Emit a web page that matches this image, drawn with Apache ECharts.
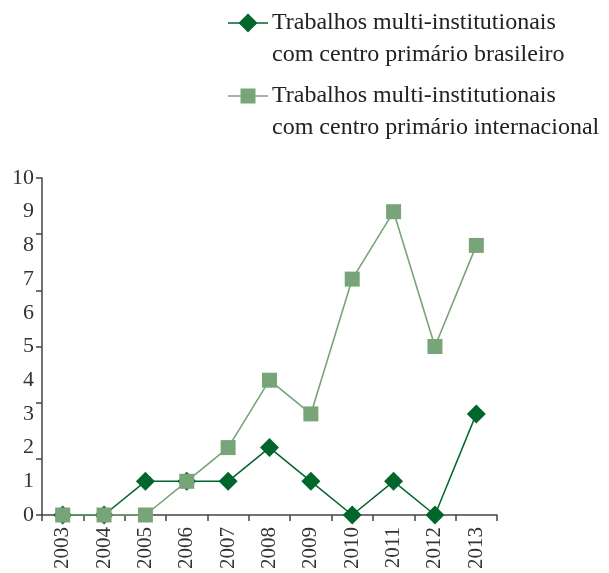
<!DOCTYPE html>
<html><head><meta charset="utf-8">
<script src="https://cdn.jsdelivr.net/npm/echarts@6/dist/echarts.min.js"></script>
<style>html,body{margin:0;padding:0;background:#fff}#c{width:609px;height:573px}</style>
</head><body><div id="c"></div>
<script>
const years = ['2003','2004','2005','2006','2007','2008','2009','2010','2011','2012','2013'];
const brasileiro = [0,0,1,1,1,2,1,0,1,0,3];
const internacional = [0,0,0,1,2,4,3,7,9,5,8];
const yTickLabels = [0,1,2,3,4,5,6,7,8,9,10];
const nameBR = 'Trabalhos multi-institutionais\ncom centro primário brasileiro';
const nameINT = 'Trabalhos multi-institutionais\ncom centro primário internacional';
const DARK = '#00662b', LIGHT = '#78a479', AX = '#444';
const FONT = 'Liberation Serif';
const chart = echarts.init(document.getElementById('c'));

function legendItem(y, color, symbol, name, lw){
  const cx = 248;
  const mark = symbol === 'diamond'
    ? {type:'polygon', shape:{points:[[cx,y-9.5],[cx+9.5,y],[cx,y+9.5],[cx-9.5,y]]}, style:{fill:color}}
    : {type:'rect', shape:{x:cx-7.5, y:y-7.5, width:15, height:15}, style:{fill:color}};
  return [
    {type:'line', shape:{x1:228, y1:y, x2:268, y2:y}, style:{stroke:color, lineWidth:lw}},
    mark,
    {type:'text', x:272, y:y-16, style:{text:name, font:'24px "'+FONT+'"', fill:'#222',
      lineHeight:32, verticalAlign:'top', align:'left'}}
  ];
}

chart.setOption({
  animation:false,
  textStyle:{fontFamily:FONT},
  legend:{show:false},
  graphic:[].concat(
    legendItem(23, DARK, 'diamond', nameBR, 1.5),
    legendItem(96, LIGHT, 'rect', nameINT, 1.6)
  ),
  grid:{left:42, right:112, top:178, bottom:58, containLabel:false},
  xAxis:{type:'category', data:years, boundaryGap:true,
    axisLine:{lineStyle:{color:AX, width:1.5}},
    axisTick:{show:true, length:6, lineStyle:{color:AX, width:1.5}},
    axisLabel:{rotate:90, fontFamily:FONT, fontSize:21, color:'#333', margin:12}
  },
  yAxis:[
    {type:'value', min:0, max:10, interval:1,
      axisLine:{show:false}, axisTick:{show:false}, splitLine:{show:false},
      axisLabel:{fontFamily:FONT, fontSize:22, color:'#333', margin:8,
        formatter:v=>yTickLabels.includes(v)?String(v):''}},
    {type:'value', min:0, max:10, interval:10/6, position:'left',
      axisLine:{show:true, lineStyle:{color:AX, width:1.5}},
      axisTick:{show:true, length:6, lineStyle:{color:AX, width:1.5}},
      axisLabel:{show:false}, splitLine:{show:false}}
  ],
  series:[
    {name:nameBR, type:'line', data:brasileiro, symbol:'diamond', symbolSize:19,
      itemStyle:{color:DARK}, lineStyle:{color:DARK, width:1.5}, z:2},
    {name:nameINT, type:'line', data:internacional, symbol:'rect', symbolSize:15,
      itemStyle:{color:LIGHT}, lineStyle:{color:LIGHT, width:1.6}, z:3}
  ]
});
</script></body></html>
